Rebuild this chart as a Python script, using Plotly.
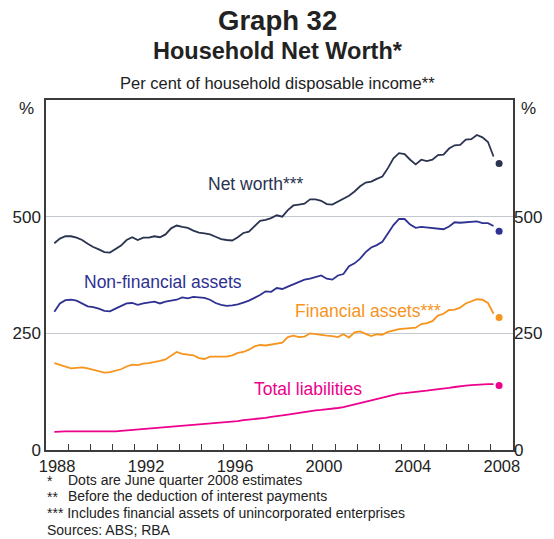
import plotly.graph_objects as go

# quarterly observations, June quarter 1988 to March quarter 2008
# (plotted at mid-quarter, decimal years)
quarters = [1988.375 + 0.25 * i for i in range(80)]
dot_quarter = 2008.375  # June quarter 2008 estimate

net_worth = [
    443, 453, 458, 458, 455, 450, 442, 435, 430, 424,
    423, 430, 438, 450, 456, 450, 455, 455, 458, 456,
    462, 475, 481, 478, 476, 470, 466, 464, 462, 457,
    452, 450, 449, 456, 465, 468, 480, 491, 493, 497,
    503, 500, 514, 524, 526, 528, 537, 537, 534, 527,
    526, 532, 538, 545, 554, 565, 573, 575, 581, 586,
    604, 625, 636, 634, 622, 612, 622, 619, 622, 632,
    633, 646, 653, 654, 665, 666, 675, 670, 660, 629,
]
non_financial = [
    296, 314, 321, 322, 320, 314, 308, 306, 303, 298,
    297, 303, 308, 314, 315, 311, 314, 316, 318, 314,
    318, 320, 322, 327, 325, 328, 327, 326, 322, 315,
    311, 309, 310, 312, 316, 320, 326, 332, 340, 339,
    347, 345, 350, 355, 360, 365, 367, 371, 374, 367,
    365, 374, 377, 394, 400, 410, 424, 434, 439, 446,
    465, 482, 495, 495, 483, 476, 478, 477, 476, 474,
    473, 479, 488, 487, 488, 489, 490, 486, 486, 480,
]
financial = [
    186, 182, 178, 175, 176, 177, 175, 172, 168, 166,
    167, 170, 173, 179, 183, 182, 185, 186, 188, 191,
    194, 203, 210, 206, 205, 203, 197, 195, 200, 200,
    200, 200, 203, 208, 210, 215, 222, 225, 224, 226,
    228, 230, 242, 245, 242, 243, 250, 248, 246, 245,
    244, 242, 248, 241, 252, 254, 249, 244, 248, 247,
    253, 256, 259, 260, 261, 262, 270, 272, 276, 288,
    292, 300, 301, 305, 314, 318, 323, 322, 315, 292,
]
liabilities = [
    39, 40, 40, 40, 40, 40, 39, 39, 39, 39,
    40, 40, 41, 42, 42, 43, 44, 45, 46, 47,
    48, 50, 51, 52, 53, 54, 55, 56, 57, 58,
    59, 60, 61, 62, 64, 65, 67, 68, 69, 71,
    72, 74, 76, 78, 79, 81, 83, 85, 86, 87,
    88, 90, 92, 95, 98, 101, 104, 107, 110, 113,
    116, 119, 121, 122, 123, 124, 126, 127, 129, 130,
    131, 133, 135, 137, 138, 139, 140, 140, 141, 141,
]
june_2008 = {"net": 614, "nonfin": 469, "fin": 284, "liab": 138}

year_labels = ["1988", "1992", "1996", "2000", "2004", "2008"]
y_ticks = [0, 250, 500]

NAVY = "#2a3350"
BLUE = "#2e3192"
ORANGE = "#f7941d"
PINK = "#ec008c"
GRID = "#c4c9cf"
AXIS = "#3c3c3c"
FONT = "Liberation Sans, Arial, sans-serif"

series = [
    (net_worth, june_2008["net"], NAVY),
    (non_financial, june_2008["nonfin"], BLUE),
    (financial, june_2008["fin"], ORANGE),
    (liabilities, june_2008["liab"], PINK),
]

fig = go.Figure()
for vals, dot, col in series:
    fig.add_trace(go.Scatter(
        x=quarters, y=vals, mode="lines",
        line=dict(color=col, width=1.8),
        hoverinfo="skip", showlegend=False,
    ))
    fig.add_trace(go.Scatter(
        x=[dot_quarter], y=[dot], mode="markers",
        marker=dict(color=col, size=7),
        yaxis="y2", hoverinfo="skip", showlegend=False,
    ))

tick_font = dict(family=FONT, size=17, color="#222222")

fig.update_layout(
    width=554, height=539,
    margin=dict(l=42, r=38, t=100, b=89),
    paper_bgcolor="white", plot_bgcolor="white",
    font=dict(family=FONT, color="#222222"),
    xaxis=dict(
        range=[1988, 2009],
        tickmode="array",
        tickvals=[int(y) + 0.5 for y in year_labels],
        ticktext=year_labels,
        ticks="",
        tickfont=dict(family=FONT, size=16.5, color="#222222"),
        showgrid=False, zeroline=False,
        showline=True, linecolor=AXIS, linewidth=1.5, mirror=True,
        minor=dict(
            tickmode="array",
            tickvals=list(range(1989, 2009)),
            ticks="inside", ticklen=6, tickcolor=AXIS, tickwidth=1,
            showgrid=False,
        ),
    ),
    yaxis=dict(
        range=[0, 750],
        tickmode="array", tickvals=y_ticks,
        ticks="", tickfont=tick_font,
        showgrid=True, gridcolor=GRID, gridwidth=1,
        zeroline=False,
        showline=True, linecolor=AXIS, linewidth=1.5, mirror=True,
    ),
    yaxis2=dict(
        range=[0, 750], overlaying="y", side="right",
        tickmode="array", tickvals=y_ticks,
        ticks="", tickfont=tick_font,
        showgrid=False, zeroline=False, showline=False,
    ),
)

def paper_x(px):
    return (px - 42) / 474

def paper_y(py):
    return (450 - py) / 349.3

texts = [
    ("Graph 32", 277, 21, 27.5, "#222222", True, "center"),
    ("Household Net Worth*", 277, 52, 23.5, "#222222", True, "center"),
    ("Per cent of household disposable income**", 277, 84, 16.5, "#222222", False, "center"),
    ("%", 22, 109, 17, "#222222", False, "center"),
    ("%", 532, 109, 17, "#222222", False, "center"),
    ("Net worth***", 255, 185, 17.5, NAVY, False, "center"),
    ("Non-financial assets", 161, 282, 17.5, BLUE, False, "center"),
    ("Financial assets***", 369, 311, 17.5, ORANGE, False, "center"),
    ("Total liabilities", 308, 389, 17.5, PINK, False, "center"),
    ("*", 41, 481, 14, "#222222", False, "left"),
    ("Dots are June quarter 2008 estimates", 62, 480, 14, "#222222", False, "left"),
    ("**", 41, 497, 14, "#222222", False, "left"),
    ("Before the deduction of interest payments", 62, 496, 14, "#222222", False, "left"),
    ("*** Includes financial assets of unincorporated enterprises", 41, 513, 14, "#222222", False, "left"),
    ("Sources: ABS; RBA", 41, 530, 14, "#222222", False, "left"),
]
for txt, px, py, size, col, bold, anchor in texts:
    fig.add_annotation(
        text=f"<b>{txt}</b>" if bold else txt,
        xref="paper", yref="paper",
        x=paper_x(px), y=paper_y(py),
        xanchor=anchor, yanchor="middle",
        showarrow=False,
        font=dict(family=FONT, size=size, color=col),
    )

# drop the browser's default 8px body margin so the figure sits at the corner
fig.write_html(
    "out.html",
    config={"displayModeBar": False},
    post_script="document.body.style.margin='0';",
)
